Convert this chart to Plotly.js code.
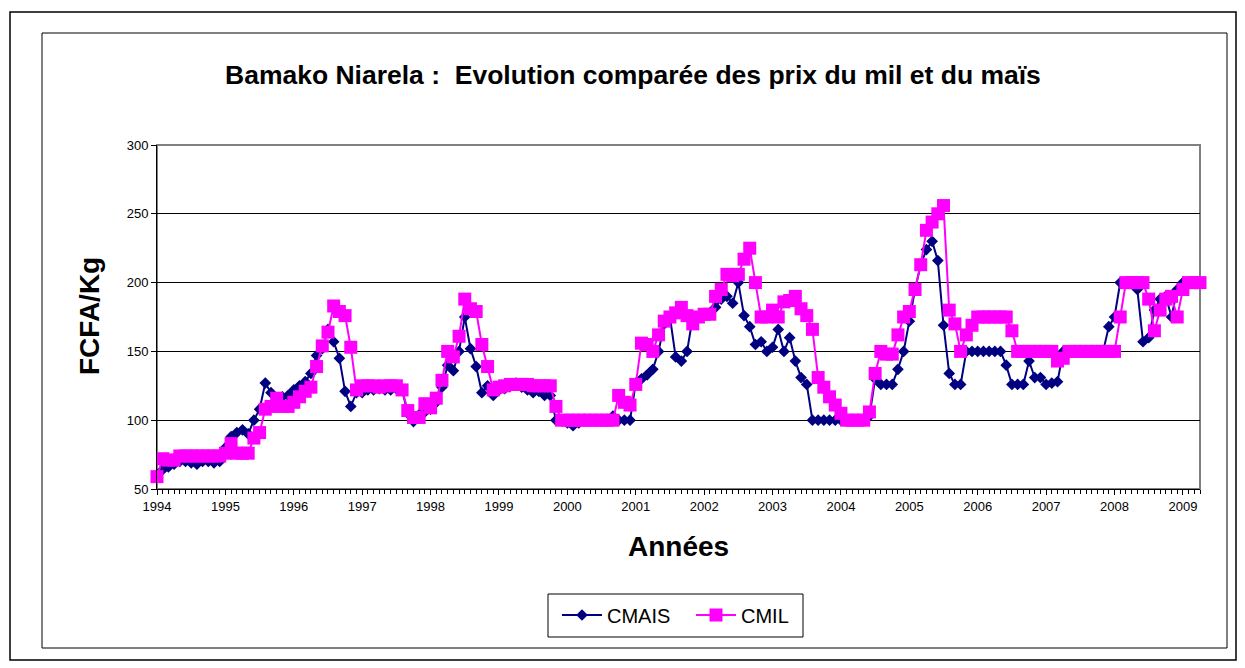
<!DOCTYPE html>
<html>
<head>
<meta charset="utf-8">
<script src="https://cdn.plot.ly/plotly-3.0.1.min.js"></script>
<style>
html,body{margin:0;padding:0;background:#fff;}
#chart{width:1245px;height:668px;}
</style>
</head>
<body>
<div id="chart"></div>
<script>
const years = ['1994','1995','1996','1997','1998','1999','2000','2001','2002','2003','2004','2005','2006','2007','2008','2009'];

// monthly prices, Jan 1994 - Apr 2009
const cmais = [
  59, 64, 66, 68, 70, 70, 69, 68, 70, 70, 69, 70,
  80, 88, 91, 93, 90, 100, 108, 127, 120, 115, 117, 118,
  122, 125, 128, 134, 147, 152, 166, 157, 145, 121, 110, 120,
  120, 122, 122, 123, 122, 122, 123, 122, 105, 99, 104, 106,
  108, 113, 124, 140, 136, 150, 175, 152, 139, 120, 125, 118,
  122, 123, 125, 127, 124, 122, 120, 121, 118, 118, 100, 100,
  98, 96, 98, 100, 100, 100, 100, 100, 103, 100, 100, 100,
  127, 130, 133, 137, 150, 170, 175, 146, 143, 150, 175, 175,
  177, 178, 182, 188, 190, 185, 200, 176, 168, 155, 157, 150,
  153, 166, 150, 160, 143, 131, 126, 100, 100, 100, 100, 100,
  100, 100, 100, 100, 100, 103, 130, 126, 126, 126, 137, 150,
  172, 195, 213, 224, 230, 216, 169, 134, 126, 126, 150, 150,
  150, 150, 150, 150, 150, 140, 126, 126, 126, 143, 131, 131,
  126, 127, 128, 150, 150, 150, 150, 150, 150, 150, 150, 168,
  175, 200, 200, 200, 195, 157, 160, 180, 188, 190, 175, 195,
  200, 200, 200, 200
];

const cmil = [
  59, 72, 71, 71, 74, 74, 74, 74, 74, 74, 74, 74,
  76, 83, 76, 76, 76, 87, 91, 108, 110, 116, 110, 110,
  113, 117, 121, 124, 139, 154, 164, 183, 179, 176, 153, 122,
  125, 125, 125, 124, 125, 125, 125, 122, 107, 102, 102, 112,
  109, 116, 129, 150, 146, 161, 188, 181, 179, 155, 139, 122,
  124, 125, 126, 126, 126, 126, 125, 125, 125, 125, 110, 100,
  100, 100, 100, 100, 100, 100, 100, 100, 100, 118, 113, 111,
  126, 156, 155, 150, 162, 172, 175, 178, 182, 176, 170, 175,
  177, 177, 190, 195, 206, 205, 206, 217, 225, 200, 175, 175,
  180, 175, 186, 187, 190, 181, 176, 166, 131, 124, 117, 111,
  105, 100, 100, 100, 100, 106, 134, 150, 148, 148, 162, 175,
  179, 195, 213, 238, 244, 250, 256, 180, 170, 150, 162, 169,
  175, 175, 175, 175, 175, 175, 165, 150, 150, 150, 150, 150,
  150, 150, 143, 145, 150, 150, 150, 150, 150, 150, 150, 150,
  150, 175, 200, 200, 200, 200, 188, 165, 180, 188, 190, 175,
  195, 200, 200, 200
];

const months = cmais.map((_, i) => i);
const yearTicks = years.map((_, i) => i * 12);

const W = 1245, H = 668;
const L = 157, R = 45, T = 145, B = 179;
const pw = W - L - R, ph = H - T - B;
const px = v => (v - L) / pw;
const py = v => (H - B - v) / ph;

const FONT = 'Liberation Sans, Arial, sans-serif';

const traces = [
  {
    x: months, y: cmais, name: 'CMAIS', type: 'scatter', mode: 'lines+markers',
    line: {color: '#000080', width: 2},
    marker: {symbol: 'diamond', size: 9, color: '#000080'},
    cliponaxis: false
  },
  {
    x: months, y: cmil, name: 'CMIL', type: 'scatter', mode: 'lines+markers',
    line: {color: '#FF00FF', width: 2},
    marker: {symbol: 'square', size: 13, color: '#FF00FF'},
    cliponaxis: false
  }
];

const layout = {
  width: W, height: H,
  margin: {l: L, r: R, t: T, b: B, pad: 0},
  paper_bgcolor: '#fff', plot_bgcolor: '#fff',
  font: {family: FONT, color: '#000', size: 13},
  xaxis: {
    range: [0, months.length - 1],
    tickvals: yearTicks, ticktext: years,
    ticks: 'outside', ticklen: 5, tickcolor: '#000', tickwidth: 1,
    minor: {dtick: 1, tick0: 0, ticks: 'outside', ticklen: 4, tickcolor: '#000', tickwidth: 1, showgrid: false},
    showgrid: false, zeroline: false,
    showline: true, linecolor: '#000', linewidth: 1,
    tickfont: {family: FONT, size: 13, color: '#000'},
    fixedrange: true
  },
  yaxis: {
    range: [50, 300], dtick: 50, tick0: 50,
    ticks: 'outside', ticklen: 5, tickcolor: '#000', tickwidth: 1,
    showgrid: true, gridcolor: '#000', gridwidth: 1,
    zeroline: false, showline: true, linecolor: '#000', linewidth: 1,
    tickfont: {family: FONT, size: 13, color: '#000'},
    fixedrange: true
  },
  annotations: [
    {text: '<b>Bamako Niarela :  Evolution comparée des prix du mil et du maïs</b>',
     xref: 'paper', yref: 'paper', x: px(633), y: py(75), xanchor: 'center', yanchor: 'middle',
     showarrow: false, font: {family: FONT, size: 26.5, color: '#000'}},
    {text: '<b>Années</b>',
     xref: 'paper', yref: 'paper', x: px(678), y: py(546), xanchor: 'center', yanchor: 'middle',
     showarrow: false, font: {family: FONT, size: 28, color: '#000'}},
    {text: '<b>FCFA/Kg</b>', textangle: -90,
     xref: 'paper', yref: 'paper', x: px(89), y: py(316), xanchor: 'center', yanchor: 'middle',
     showarrow: false, font: {family: FONT, size: 28, color: '#000'}}
  ],
  showlegend: true,
  legend: {
    orientation: 'h',
    x: px(557), xanchor: 'left',
    y: py(615), yanchor: 'middle',
    borderwidth: 0, bgcolor: 'rgba(0,0,0,0)',
    font: {family: FONT, size: 20, color: '#000'},
    itemwidth: 40, entrywidth: 79
  },
  shapes: [
    {type: 'rect', xref: 'paper', yref: 'paper', x0: px(10), x1: px(1236), y0: py(660), y1: py(12),
     line: {color: '#000', width: 1.5}, fillcolor: 'rgba(0,0,0,0)', layer: 'below'},
    {type: 'rect', xref: 'paper', yref: 'paper', x0: px(42), x1: px(1227), y0: py(648), y1: py(33),
     line: {color: '#000', width: 1}, fillcolor: 'rgba(0,0,0,0)', layer: 'below'},
    {type: 'rect', xref: 'paper', yref: 'paper', x0: 0, x1: 1, y0: 0, y1: 1,
     line: {color: '#808080', width: 2}, fillcolor: 'rgba(0,0,0,0)', layer: 'below'},
    {type: 'rect', xref: 'paper', yref: 'paper', x0: px(548), x1: px(803), y0: py(637), y1: py(594),
     line: {color: '#000', width: 1}, fillcolor: 'rgba(0,0,0,0)', layer: 'below'}
  ]
};

Plotly.newPlot('chart', traces, layout, {displayModeBar: false, staticPlot: true});
</script>
</body>
</html>
